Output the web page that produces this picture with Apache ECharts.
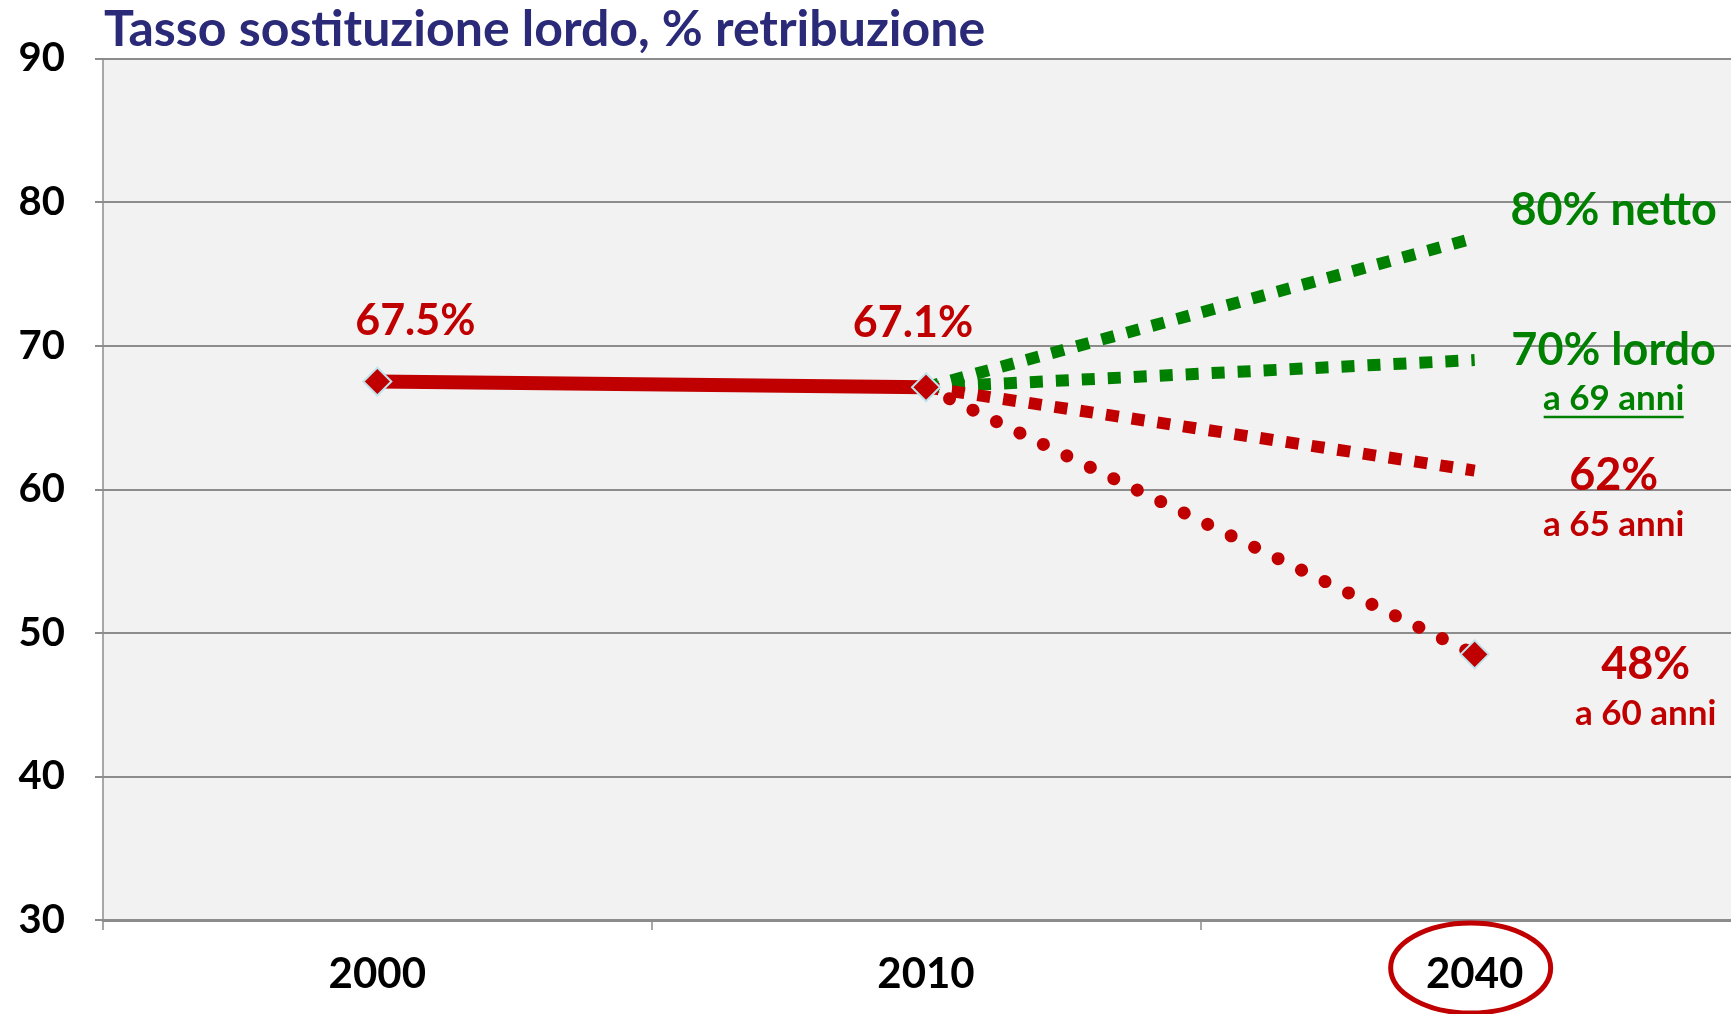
<!DOCTYPE html>
<html>
<head>
<meta charset="utf-8">
<script src="https://cdn.jsdelivr.net/npm/echarts@6/dist/echarts.min.js"></script>
<style>
  html, body { margin: 0; padding: 0; background: #fff; overflow: hidden; }
  /* the plot runs a little past the right edge of the window, as in the original slide */
  #chart { width: 1749px; height: 1014px; }
</style>
</head>
<body>
<div id="chart"></div>
<script>
const years = ['2000', '2010', '2040'];
const storico = [67.5, 67.1, '-'];
const netto80 = ['-', 67.1, 77.5];
const lordo70 = ['-', 67.1, 69.0];
const anni65 = ['-', 67.1, 61.3];
const anni60 = ['-', 67.1, 48.5];
const yTicks = { min: 30, max: 90, step: 10 };

const RED = '#c00000';
const GREEN = '#008000';
const FONT = 'Lato, "Open Sans", sans-serif';

const chart = echarts.init(document.getElementById('chart'), null, { renderer: 'canvas' });

// label only on the last point of a projection line
function endPoint(arr, label) {
  return arr.map((v, i) => i === arr.length - 1 ? { value: v, label: Object.assign({ show: true }, label) } : v);
}

function projLine(name, arr, color, label) {
  return {
    name: name,
    type: 'line',
    data: endPoint(arr, label),
    symbol: 'circle',
    symbolSize: 0,
    showSymbol: true,
    itemStyle: { color: color },
    lineStyle: { color: color, width: 12, type: [13, 13], cap: 'butt' },
    label: { show: false },
    z: 3,
    animation: false
  };
}

const bigText = { fontSize: 45, fontWeight: 'bold', fontFamily: FONT };
const smallText = { fontSize: 35, fontWeight: 'bold', fontFamily: FONT };

const option = {
  backgroundColor: '#ffffff',
  animation: false,
  title: {
    text: 'Tasso sostituzione lordo, % retribuzione',
    left: 104,
    top: 5,
    padding: 0,
    textStyle: { color: '#2a2a78', fontSize: 50, fontWeight: 'bold', fontFamily: FONT }
  },
  grid: {
    left: 103, top: 58.5, bottom: 94, right: 0,
    show: true, backgroundColor: '#f2f2f2', borderWidth: 0
  },
  xAxis: {
    type: 'category',
    data: years,
    boundaryGap: true,
    axisLine: { lineStyle: { color: '#8c8c8c', width: 3 } },
    axisTick: { show: true, length: 10, lineStyle: { color: '#8c8c8c', width: 1.5 } },
    axisLabel: { color: '#000', margin: 33, fontSize: 42, fontWeight: 'bold', fontFamily: FONT },
    splitLine: { show: false }
  },
  yAxis: {
    type: 'value',
    min: yTicks.min, max: yTicks.max, interval: yTicks.step,
    axisLine: { show: true, lineStyle: { color: '#8c8c8c', width: 1.5 } },
    axisTick: { show: true, length: 8, lineStyle: { color: '#8c8c8c', width: 2 } },
    axisLabel: { color: '#000', margin: 38, fontSize: 40, fontWeight: 'bold', fontFamily: FONT },
    splitLine: { lineStyle: { color: '#8c8c8c', width: 2 } }
  },
  series: [
    projLine('80% netto', netto80, GREEN, {
      position: 'inside', offset: [139, -27],
      formatter: '80% netto', color: GREEN, ...bigText
    }),
    projLine('70% lordo', lordo70, GREEN, {
      position: 'inside', offset: [139, 14],
      formatter: '{a|70% lordo}\n{b|a 69 anni}',
      rich: {
        a: { color: GREEN, lineHeight: 50, ...bigText },
        b: { color: GREEN, lineHeight: 48, ...smallText }
      }
    }),
    projLine('62%', anni65, RED, {
      position: 'inside', offset: [139, 29],
      formatter: '{a|62%}\n{b|a 65 anni}',
      rich: {
        a: { color: RED, lineHeight: 50, ...bigText },
        b: { color: RED, lineHeight: 48, ...smallText }
      }
    }),
    {
      name: '48%',
      type: 'line',
      data: anni60.map((v, i) => i === anni60.length - 1
        ? { value: v, symbol: 'diamond', symbolSize: 28,
            label: { show: true, position: 'inside', offset: [171, 34],
              formatter: '{a|48%}\n{b|a 60 anni}',
              rich: {
                a: { color: RED, lineHeight: 50, ...bigText },
                b: { color: RED, lineHeight: 48, ...smallText }
              } } }
        : { value: v, symbol: 'none' }),
      itemStyle: { color: RED, borderColor: '#bfe4ea', borderWidth: 2 },
      lineStyle: { color: RED, width: 13, type: [0.1, 26], cap: 'round' },
      label: { show: false },
      z: 3
    },
    {
      name: 'storico',
      type: 'line',
      data: storico.map((v, i) => ({
        value: v,
        label: { offset: i === 0 ? [38, -60] : [-13, -64] }
      })),
      symbol: 'diamond',
      symbolSize: 28,
      itemStyle: { color: RED, borderColor: '#bfe4ea', borderWidth: 2 },
      lineStyle: { color: RED, width: 14 },
      label: {
        show: true, position: 'inside', color: RED,
        formatter: p => p.value.toFixed(1) + '%',
        ...bigText, fontSize: 43
      },
      z: 4
    }
  ]
};

chart.setOption(option);

// red circle round the 2040 label, and the underline under "a 69 anni"
const p2040 = chart.convertToPixel({ xAxisIndex: 0 }, '2040');
const pLordo = chart.convertToPixel({ xAxisIndex: 0, yAxisIndex: 0 }, ['2040', lordo70[2]]);
chart.setOption({
  graphic: [
    {
      type: 'ellipse',
      shape: { cx: p2040 - 4, cy: 968, rx: 80, ry: 45 },
      style: { fill: 'none', stroke: RED, lineWidth: 5 },
      z: 10
    },
    {
      type: 'line',
      shape: { x1: pLordo[0] + 69, y1: pLordo[1] + 57, x2: pLordo[0] + 209, y2: pLordo[1] + 57 },
      style: { stroke: GREEN, lineWidth: 2.5 },
      z: 10
    }
  ]
});
</script>
</body>
</html>
